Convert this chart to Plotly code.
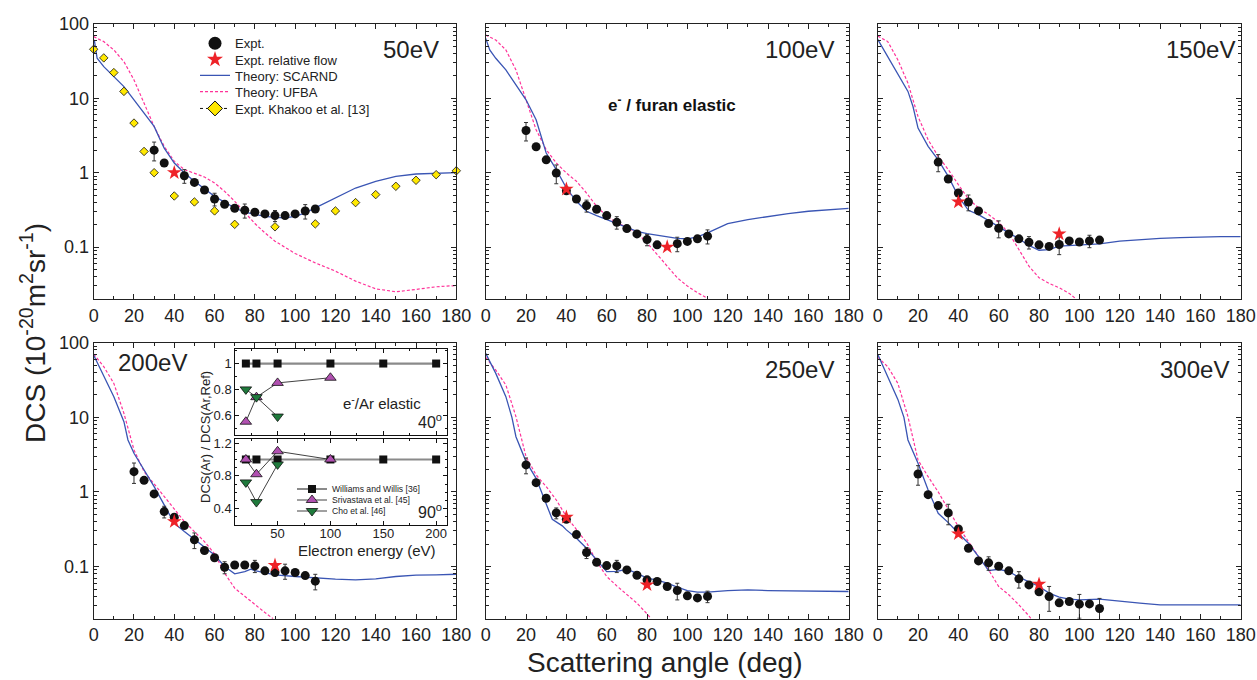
import plotly.graph_objects as go
import math

# ---------------- DATA ----------------
# Main panels: scattering angle (deg) vs DCS (1e-20 m^2 sr^-1)
energies = ["50eV", "100eV", "150eV", "200eV", "250eV", "300eV"]

# Theory: SCARND
sc_x_50 = [0.3, 1.7, 5, 10, 15, 20, 25, 30, 33, 35, 40, 45, 50, 55, 60, 65, 70, 75, 80, 85, 90, 95, 100, 105, 110, 120, 130, 140, 150, 160, 170, 180]
sc_y_50 = [61, 34.6, 26.7, 19.6, 14.4, 9.55, 6.33, 4.19, 2.77, 2.14, 1.35, 0.99, 0.766, 0.60, 0.48, 0.40, 0.336, 0.294, 0.273, 0.259, 0.251, 0.246, 0.259, 0.288, 0.336, 0.457, 0.622, 0.766, 0.894, 0.96, 0.99, 1.0]
sc_x_100 = [0, 2, 5, 10, 15, 20, 25, 30, 35, 40, 45, 50, 55, 60, 65, 70, 75, 80, 85, 90, 95, 100, 105, 110, 120, 130, 140, 150, 160, 170, 180]
sc_y_100 = [64, 44.8, 34.6, 24.1, 15.2, 9.55, 5.14, 1.84, 1.1, 0.622, 0.412, 0.303, 0.265, 0.234, 0.207, 0.183, 0.163, 0.152, 0.144, 0.137, 0.131, 0.129, 0.137, 0.155, 0.207, 0.234, 0.259, 0.282, 0.303, 0.318, 0.332]
sc_x_150 = [0, 5, 10, 15, 17.5, 20, 25, 30, 35, 40, 45, 50, 55, 60, 65, 70, 75, 80, 85, 90, 100, 110, 120, 130, 140, 150, 160, 170, 180]
sc_y_150 = [62, 36.5, 21.8, 12.4, 7.77, 3.98, 2.26, 1.49, 0.893, 0.481, 0.312, 0.273, 0.227, 0.19, 0.155, 0.129, 0.105, 0.0906, 0.0925, 0.103, 0.106, 0.11, 0.12, 0.126, 0.131, 0.134, 0.137, 0.138, 0.138]
sc_x_200 = [0, 5, 10, 15, 17, 20, 25, 30, 35, 40, 45, 50, 55, 60, 65, 70, 75, 78, 80, 90, 100, 110, 120, 130, 140, 150, 160, 170, 180]
sc_y_200 = [68, 35.1, 18.9, 8.75, 4.97, 3.3, 1.97, 1.18, 0.67, 0.38, 0.294, 0.232, 0.185, 0.143, 0.1, 0.0798, 0.0857, 0.092, 0.088, 0.0773, 0.0735, 0.0698, 0.0677, 0.0663, 0.0684, 0.0735, 0.0766, 0.0775, 0.0788]
sc_x_250 = [0, 5, 10, 13, 15, 20, 25, 30, 33, 38, 40, 45, 50, 55, 60, 65, 70, 75, 80, 85, 90, 95, 100, 105, 110, 120, 130, 140, 160, 180]
sc_y_250 = [72, 38.8, 18.9, 10, 5.5, 2.55, 1.52, 0.705, 0.43, 0.351, 0.31, 0.239, 0.176, 0.123, 0.0857, 0.086, 0.092, 0.081, 0.0698, 0.0656, 0.0598, 0.053, 0.0477, 0.0455, 0.0455, 0.0477, 0.0487, 0.0477, 0.0475, 0.0463]
sc_x_300 = [0, 5, 10, 13, 15, 20, 25, 30, 35, 40, 45, 50, 55, 60, 65, 70, 75, 80, 85, 90, 95, 100, 110, 120, 130, 140, 160, 180]
sc_y_300 = [70, 35, 17.4, 10, 4.97, 2.42, 1.06, 0.518, 0.388, 0.279, 0.205, 0.136, 0.0883, 0.092, 0.0857, 0.072, 0.063, 0.054, 0.044, 0.039, 0.0365, 0.0357, 0.0365, 0.034, 0.0323, 0.0307, 0.0304, 0.0307]

# Theory: UFBA
uf_x_50 = [0, 5, 10, 15, 20, 25, 30, 35, 40, 45, 50, 55, 60, 65, 70, 75, 80, 85, 90, 100, 110, 120, 130, 140, 150, 160, 170, 180]
uf_y_50 = [67.6, 58, 44.8, 31.2, 17.7, 8.6, 4.19, 2.26, 1.42, 1.1, 0.99, 0.875, 0.727, 0.561, 0.412, 0.288, 0.207, 0.155, 0.12, 0.0818, 0.0613, 0.0474, 0.0348, 0.0274, 0.025, 0.0269, 0.0292, 0.0304]
uf_x_100 = [0, 5, 10, 15, 20, 25, 30, 35, 40, 45, 50, 55, 60, 65, 70, 75, 80, 85, 90, 95, 100, 105, 110]
uf_y_100 = [71, 61, 44.8, 24.1, 9.55, 3.78, 2.04, 1.35, 0.99, 0.766, 0.533, 0.353, 0.259, 0.211, 0.185, 0.155, 0.114, 0.0793, 0.0553, 0.0386, 0.0298, 0.0243, 0.0204]
uf_x_150 = [0, 5, 10, 15, 20, 25, 30, 35, 40, 45, 50, 55, 60, 65, 70, 75, 80, 85, 90, 95, 98]
uf_y_150 = [69, 58, 32.9, 16, 5.7, 2.77, 1.66, 1.1, 0.69, 0.443, 0.336, 0.273, 0.215, 0.155, 0.0925, 0.0553, 0.0386, 0.0324, 0.0283, 0.0238, 0.0204]
uf_x_200 = [0, 5, 10, 15, 20, 25, 30, 35, 40, 45, 50, 55, 60, 65, 70, 75, 80, 85, 89]
uf_y_200 = [70.5, 47.7, 28.5, 11.3, 3.66, 1.87, 1.28, 0.865, 0.574, 0.401, 0.294, 0.216, 0.148, 0.0815, 0.0513, 0.0396, 0.0307, 0.0242, 0.02]
uf_x_250 = [0, 5, 10, 15, 20, 25, 30, 35, 40, 45, 50, 55, 60, 65, 70, 75, 80, 82]
uf_y_250 = [63.6, 43, 27.1, 10.2, 2.97, 1.69, 1.18, 0.78, 0.468, 0.316, 0.21, 0.117, 0.0735, 0.055, 0.0418, 0.0323, 0.0232, 0.02]
uf_x_300 = [0, 5, 10, 15, 20, 25, 30, 35, 40, 45, 50, 55, 60, 65, 70, 75, 76]
uf_y_300 = [63.6, 47.7, 28.5, 10.2, 2.68, 1.6, 1.0, 0.574, 0.343, 0.216, 0.136, 0.0902, 0.054, 0.0418, 0.0307, 0.0218, 0.02]

# Expt. (this work)
ex_x_50 = [30, 35, 45, 50, 55, 60, 65, 70, 75, 80, 85, 90, 95, 100, 105, 110]
ex_y_50 = [2.01, 1.35, 0.91, 0.74, 0.585, 0.443, 0.376, 0.332, 0.312, 0.294, 0.279, 0.265, 0.265, 0.279, 0.305, 0.325]
ex_e_50 = [0.57, 0.0, 0.19, 0.0, 0.0, 0.086, 0.0, 0.0, 0.067, 0.0, 0.0, 0.045, 0.0, 0.0, 0.067, 0.0]
ex_x_100 = [20, 25, 30, 35, 40, 45, 50, 55, 60, 65, 70, 75, 80, 85, 95, 100, 105, 110]
ex_y_100 = [3.7, 2.23, 1.49, 0.99, 0.57, 0.443, 0.361, 0.322, 0.265, 0.215, 0.177, 0.15, 0.126, 0.107, 0.111, 0.119, 0.129, 0.14]
ex_e_100 = [1.03, 0.0, 0.0, 0.28, 0.0, 0.0, 0.066, 0.0, 0.0, 0.041, 0.0, 0.0, 0.022, 0.0, 0.0245, 0.0, 0.0, 0.030]
ex_x_150 = [30, 35, 40, 45, 50, 55, 60, 65, 70, 75, 80, 85, 90, 95, 100, 105, 110]
ex_y_150 = [1.39, 0.822, 0.533, 0.404, 0.306, 0.207, 0.179, 0.150, 0.129, 0.116, 0.107, 0.102, 0.108, 0.121, 0.117, 0.121, 0.124]
ex_e_150 = [0.36, 0.0, 0.0, 0.097, 0.0, 0.0, 0.046, 0.0, 0.0, 0.022, 0.0, 0.0, 0.029, 0.0, 0.0, 0.023, 0.0]
ex_x_200 = [20, 25, 30, 35, 40, 45, 50, 55, 60, 65, 70, 75, 80, 85, 90, 95, 100, 105, 110]
ex_y_200 = [1.87, 1.43, 0.94, 0.545, 0.458, 0.354, 0.228, 0.164, 0.131, 0.098, 0.105, 0.105, 0.102, 0.0875, 0.0832, 0.0875, 0.0832, 0.0757, 0.0637]
ex_e_200 = [0.57, 0.0, 0.0, 0.097, 0.0, 0.0, 0.054, 0.0, 0.0, 0.018, 0.0, 0.0, 0.019, 0.0, 0.0, 0.020, 0.0, 0.0, 0.015]
ex_x_250 = [20, 25, 30, 35, 40, 45, 50, 55, 60, 65, 70, 75, 80, 85, 90, 95, 100, 105, 110]
ex_y_250 = [2.3, 1.33, 0.822, 0.523, 0.43, 0.268, 0.154, 0.114, 0.103, 0.102, 0.0902, 0.0765, 0.0663, 0.063, 0.054, 0.0477, 0.0405, 0.038, 0.0398]
ex_e_250 = [0.55, 0.0, 0.0, 0.087, 0.0, 0.0, 0.026, 0.0, 0.0, 0.019, 0.0, 0.0, 0.006, 0.0, 0.0, 0.012, 0.0, 0.0, 0.007]
ex_x_300 = [20, 25, 30, 35, 40, 45, 50, 55, 60, 65, 70, 75, 80, 85, 90, 95, 100, 105, 110]
ex_y_300 = [1.74, 0.92, 0.656, 0.523, 0.319, 0.176, 0.119, 0.112, 0.101, 0.0875, 0.0684, 0.0568, 0.0458, 0.0396, 0.0326, 0.034, 0.0313, 0.0316, 0.0274]
ex_e_300 = [0.51, 0.0, 0.0, 0.16, 0.0, 0.0, 0.0, 0.023, 0.0, 0.0, 0.017, 0.0, 0.0, 0.0145, 0.0, 0.0, 0.011, 0.0, 0.010]

# Expt. relative flow (stars)
rf_x_50 = [40]
rf_y_50 = [1.0]
rf_x_100 = [40, 90]
rf_y_100 = [0.6, 0.1]
rf_x_150 = [40, 90]
rf_y_150 = [0.404, 0.150]
rf_x_200 = [40, 90]
rf_y_200 = [0.401, 0.104]
rf_x_250 = [40, 80]
rf_y_250 = [0.458, 0.0568]
rf_x_300 = [40, 80]
rf_y_300 = [0.274, 0.058]

# Expt. Khakoo et al. [13] (50 eV only)
kh_x = [0, 5, 10, 15, 20, 25, 30, 40, 50, 60, 70, 90, 110, 120, 130, 140, 150, 160, 170, 180]
kh_y = [45.7, 35, 22.2, 12.4, 4.65, 1.93, 1.0, 0.486, 0.404, 0.306, 0.202, 0.187, 0.205, 0.306, 0.396, 0.507, 0.656, 0.79, 0.94, 1.06]

# Inset: e-/Ar elastic ratio DCS(Ar)/DCS(Ar,Ref)
ww_e = [20, 30, 50, 100, 150, 200]
ww_40 = [1, 1, 1, 1, 1, 1]
ww_90 = [1, 1, 1, 1, 1, 1]
sr_e = [20, 30, 50, 100]
sr_40 = [0.55, 0.74, 0.85, 0.89]
sr_90 = [1.0, 0.82, 1.1, 1.0]
ch_e = [20, 30, 50]
ch_40 = [0.80, 0.74, 0.59]
ch_90 = [0.72, 0.48, 0.94]

x_ticks = [0, 20, 40, 60, 80, 100, 120, 140, 160, 180]

# ---------------- FIGURE ----------------
W, H = 1257, 680
def px(x):
    return x / W
def py(y):
    return 1 - y / H

FONT = "Liberation Sans, Arial, sans-serif"
BLUE = "#3a55b4"
PINK = "#ff3399"
RED = "#ee2228"
FRAME = "#222222"

col_px = [(93.7, 456.3), (485.7, 848.7), (877.7, 1240.7)]
row_px = [(24, 299), (342.7, 618.7)]

panels = [
    (sc_x_50, sc_y_50, uf_x_50, uf_y_50, ex_x_50, ex_y_50, ex_e_50, rf_x_50, rf_y_50),
    (sc_x_100, sc_y_100, uf_x_100, uf_y_100, ex_x_100, ex_y_100, ex_e_100, rf_x_100, rf_y_100),
    (sc_x_150, sc_y_150, uf_x_150, uf_y_150, ex_x_150, ex_y_150, ex_e_150, rf_x_150, rf_y_150),
    (sc_x_200, sc_y_200, uf_x_200, uf_y_200, ex_x_200, ex_y_200, ex_e_200, rf_x_200, rf_y_200),
    (sc_x_250, sc_y_250, uf_x_250, uf_y_250, ex_x_250, ex_y_250, ex_e_250, rf_x_250, rf_y_250),
    (sc_x_300, sc_y_300, uf_x_300, uf_y_300, ex_x_300, ex_y_300, ex_e_300, rf_x_300, rf_y_300),
]

fig = go.Figure()
layout = {}

for i, (scx, scy, ufx, ufy, exx, exy, exe, rfx, rfy) in enumerate(panels):
    n = i + 1
    r, c = divmod(i, 3)
    xa = "x" if n == 1 else f"x{n}"
    ya = "y" if n == 1 else f"y{n}"
    xkey = "xaxis" if n == 1 else f"xaxis{n}"
    ykey = "yaxis" if n == 1 else f"yaxis{n}"
    layout[xkey] = dict(
        domain=[px(col_px[c][0]), px(col_px[c][1])], anchor=ya, automargin=False,
        range=[0, 180], tickvals=x_ticks, ticks="inside", ticklen=5, tickcolor=FRAME,
        minor=dict(dtick=10, ticks="inside", ticklen=3, tickcolor=FRAME),
        showline=True, mirror="allticks", linecolor=FRAME, linewidth=1,
        showgrid=False, zeroline=False,
        tickfont=dict(size=18, color="#222", family=FONT),
    )
    layout[ykey] = dict(
        domain=[py(row_px[r][1]), py(row_px[r][0])], anchor=xa, automargin=False,
        type="log", range=[math.log10(0.02), 2], dtick=1, tick0=0,
        ticks="inside", ticklen=5, tickcolor=FRAME,
        minor=dict(dtick="D1", ticks="inside", ticklen=3, tickcolor=FRAME),
        showline=True, mirror="allticks", linecolor=FRAME, linewidth=1,
        showgrid=False, zeroline=False, showticklabels=(c == 0),
        tickfont=dict(size=18, color="#222", family=FONT),
    )
    fig.add_trace(go.Scatter(x=ufx, y=ufy, mode="lines", xaxis=xa, yaxis=ya,
                             line=dict(color=PINK, width=1.2, dash="3px,2px"), showlegend=False))
    fig.add_trace(go.Scatter(x=scx, y=scy, mode="lines", xaxis=xa, yaxis=ya,
                             line=dict(color=BLUE, width=1.3), showlegend=False))
    if n == 1:
        fig.add_trace(go.Scatter(x=kh_x, y=kh_y, mode="markers", xaxis=xa, yaxis=ya,
                                 marker=dict(symbol="diamond", size=6.5, color="#ffe800",
                                             line=dict(color="#111", width=0.8)),
                                 cliponaxis=False, showlegend=False))
    fig.add_trace(go.Scatter(x=exx, y=exy, mode="markers", xaxis=xa, yaxis=ya,
                             marker=dict(symbol="circle", size=9, color="#111"),
                             error_y=dict(type="data", array=exe, color="#333", thickness=1, width=2),
                             showlegend=False))
    fig.add_trace(go.Scatter(x=rfx, y=rfy, mode="markers", xaxis=xa, yaxis=ya,
                             marker=dict(symbol="star", size=11, color=RED, line=dict(width=0)),
                             showlegend=False))

# Legend entries for main panels (legend-only traces), one legend per row for tight spacing
leg_items = [
    dict(mode="markers", name="Expt.", marker=dict(symbol="circle", size=13, color="#111")),
    dict(mode="markers", name="Expt. relative flow", marker=dict(symbol="star", size=12, color=RED)),
    dict(mode="lines", name="Theory: SCARND", line=dict(color=BLUE, width=1.3)),
    dict(mode="lines", name="Theory: UFBA", line=dict(color=PINK, width=1.2, dash="3px,2px")),
    dict(mode="lines+markers", name="Expt. Khakoo et al. [13]",
         line=dict(color="#111", width=1, dash="dot"),
         marker=dict(symbol="diamond", size=11.5, color="#ffe800", line=dict(color="#111", width=1))),
]
leg_y = [43.3, 59.5, 75.5, 91.7, 108.5]
legends = {}
for k, (item, yy) in enumerate(zip(leg_items, leg_y)):
    lname = "legend" if k == 0 else f"legend{k + 1}"
    fig.add_trace(go.Scatter(x=[None], y=[None], legend=lname, **item))
    legends[lname] = dict(x=px(195), y=py(yy), xanchor="left", yanchor="middle",
                          bgcolor="rgba(0,0,0,0)", borderwidth=0, itemwidth=30,
                          font=dict(size=13, color="#222", family=FONT))

# ---------------- INSET ----------------
ins_x = (235.3, 446.7)
ins_up = (349.3, 435.3)
ins_lo = (439, 525)
inset_font = dict(size=13, color="#222", family=FONT)
for key, yk, yrng, yv, ydom, showx in [
    ("xaxis7", "yaxis7", [0.445, 1.11], [0.6, 0.8, 1.0], ins_up, False),
    ("xaxis8", "yaxis8", [0.2, 1.25], [0.4, 0.8, 1.2], ins_lo, True),
]:
    xn = key.replace("xaxis", "x")
    yn = yk.replace("yaxis", "y")
    layout[key] = dict(
        domain=[px(ins_x[0]), px(ins_x[1])], anchor=yn, range=[10, 210], automargin=False,
        tickvals=[50, 100, 150, 200], ticks="inside", ticklen=4, tickcolor="#111",
        minor=dict(dtick=25, tick0=0, ticks="inside", ticklen=2, tickcolor="#111"),
        showline=True, mirror="allticks", linecolor="#111", linewidth=1,
        showgrid=False, zeroline=False, showticklabels=showx, tickfont=inset_font,
        ticklabelstandoff=-4,
    )
    layout[yk] = dict(
        domain=[py(ydom[1]), py(ydom[0])], anchor=xn, range=yrng, automargin=False,
        tickvals=yv, ticktext=[("1" if v == 1.0 else f"{v:g}") for v in yv],
        ticks="inside", ticklen=4, tickcolor="#111",
        minor=dict(dtick=0.1, ticks="inside", ticklen=2, tickcolor="#111"),
        showline=True, mirror="allticks", linecolor="#111", linewidth=1,
        showgrid=False, zeroline=False, tickfont=inset_font,
    )

GREY = "#8a8a8a"
PURPLE = "#b050b0"
GREEN = "#1f7a3c"
ins_leg_y = [489, 500, 511]
for xn, yn, wv, sv, cv in [("x7", "y7", ww_40, sr_40, ch_40), ("x8", "y8", ww_90, sr_90, ch_90)]:
    first = xn == "x8"
    fig.add_trace(go.Scatter(x=ww_e, y=wv, mode="lines+markers", xaxis=xn, yaxis=yn,
                             name="Williams and Willis [36]", legend="legend6", showlegend=first,
                             line=dict(color=GREY, width=2.2),
                             marker=dict(symbol="square", size=8, color="#111"), cliponaxis=False))
    fig.add_trace(go.Scatter(x=sr_e, y=sv, mode="lines+markers", xaxis=xn, yaxis=yn,
                             name="Srivastava et al. [45]", legend="legend7", showlegend=first,
                             line=dict(color="#111", width=0.8),
                             marker=dict(symbol="triangle-up", size=10, color=PURPLE,
                                         line=dict(color="#111", width=0.8)), cliponaxis=False))
    fig.add_trace(go.Scatter(x=ch_e, y=cv, mode="lines+markers", xaxis=xn, yaxis=yn,
                             name="Cho et al. [46]", legend="legend8", showlegend=first,
                             line=dict(color="#111", width=0.8),
                             marker=dict(symbol="triangle-down", size=10, color=GREEN,
                                         line=dict(color="#111", width=0.8)), cliponaxis=False))
for k, yy in zip([6, 7, 8], ins_leg_y):
    legends[f"legend{k}"] = dict(x=px(292), y=py(yy), xanchor="left", yanchor="middle",
                                 bgcolor="rgba(0,0,0,0)", borderwidth=0, itemwidth=30,
                                 font=dict(size=8.6, color="#222", family=FONT))

# ---------------- ANNOTATIONS ----------------
ann = []
def text(x, y, s, size, xanchor="center", yanchor="middle", bold=False, angle=0, color="#222"):
    ann.append(dict(x=px(x), y=py(y), xref="paper", yref="paper", text=(f"<b>{s}</b>" if bold else s),
                    showarrow=False, xanchor=xanchor, yanchor=yanchor, textangle=angle,
                    font=dict(size=size, color=color, family=FONT)))

text(441, 50, energies[0], 24, xanchor="right")
text(836, 50, energies[1], 24, xanchor="right")
text(1237, 50, energies[2], 24, xanchor="right")
text(116, 362, energies[3], 24, xanchor="left")
text(836, 369, energies[4], 24, xanchor="right")
text(1231, 369, energies[5], 24, xanchor="right")
text(672, 104, "e<sup>-</sup> / furan elastic", 17, bold=True, color="#111")
text(33, 333, "DCS (10<sup>-20</sup>m<sup>2</sup>sr<sup>-1</sup>)", 28, angle=-90)
text(665, 662, "Scattering angle (deg)", 28)
text(382, 402, "e<sup>-</sup>/Ar elastic", 15)
text(444, 421, "40<sup>o</sup>", 16, xanchor="right")
text(444, 511, "90<sup>o</sup>", 16, xanchor="right")
text(205, 437, "DCS(Ar) / DCS(Ar,Ref)", 13, angle=-90)
text(367, 550, "Electron energy (eV)", 15)

layout.update(
    width=W, height=H,
    margin=dict(l=0, r=0, t=0, b=0, autoexpand=False),
    paper_bgcolor="white", plot_bgcolor="rgba(0,0,0,0)",
    font=dict(family=FONT, color="#222"),
    annotations=ann,
    **legends,
)
fig.update_layout(**layout)
fig.write_html("out.html", config={"displayModeBar": False},
               post_script="document.body.style.margin='0';document.body.style.padding='0';"
                           "document.documentElement.style.overflow='hidden';")
